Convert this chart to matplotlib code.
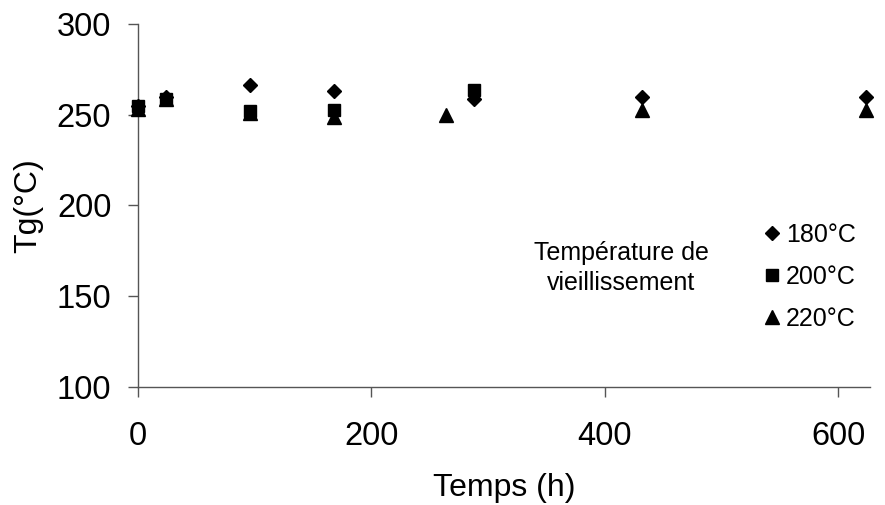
import matplotlib
matplotlib.use("Agg")
import matplotlib.pyplot as plt
from matplotlib.lines import Line2D

plt.rcParams['font.family'] = ['Liberation Sans', 'DejaVu Sans']

# Tg versus ageing time for three ageing temperatures
t_180 = [0, 24, 96, 168, 288, 432, 624]
tg_180 = [255, 260, 266.5, 263.2, 259, 260, 260]
t_200 = [0, 24, 96, 168, 288]
tg_200 = [255, 258.5, 252, 252.7, 264]
t_220 = [0, 24, 96, 168, 264, 432, 624]
tg_220 = [253.5, 259, 251, 249, 250, 252.7, 252.5]

labels = ['180°C', '200°C', '220°C']
xticks = [0, 200, 400, 600]
yticks = [100, 150, 200, 250, 300]

fig = plt.figure(figsize=(8.85, 5.05), dpi=100)
ax = fig.add_axes([0.1556, 0.2343, 0.8274, 0.7176])

ax.plot(t_220, tg_220, '^', color='black', markersize=9.5, zorder=3)
ax.plot(t_180, tg_180, 'D', color='black', markersize=7, zorder=4)
ax.plot(t_200, tg_200, 's', color='black', markersize=9, zorder=5)

ax.set_xlim(0, 627)
ax.set_ylim(100, 300)
ax.set_xticks(xticks)
ax.set_yticks(yticks)
ax.tick_params(labelsize=23.5, length=7, width=1, color='#555555')
ax.tick_params(axis='x', pad=18)
ax.tick_params(axis='y', pad=12)
for s in ['top', 'right']:
    ax.spines[s].set_visible(False)
for s in ['left', 'bottom']:
    ax.spines[s].set_color('#555555')
    ax.spines[s].set_linewidth(1)
for ln in ax.lines:
    ln.set_clip_on(False)

ax.set_xlabel('Temps (h)', fontsize=23, labelpad=15)
ax.set_ylabel('Tg(°C)', fontsize=23, labelpad=10)

handles = [
    Line2D([], [], marker='D', color='black', linestyle='none', markersize=7),
    Line2D([], [], marker='s', color='black', linestyle='none', markersize=8.5),
    Line2D([], [], marker='^', color='black', linestyle='none', markersize=9.5),
]
fig.legend(handles, labels, loc='upper left', bbox_to_anchor=(0.853, 0.578),
           frameon=False, fontsize=18, handlelength=0.6, handletextpad=0.25,
           labelspacing=0.72, borderaxespad=0)

fig.text(0.702, 0.470, 'Température de\nvieillissement', fontsize=18,
         ha='center', va='center', linespacing=1.3)

fig.savefig('out.png', dpi=100)
